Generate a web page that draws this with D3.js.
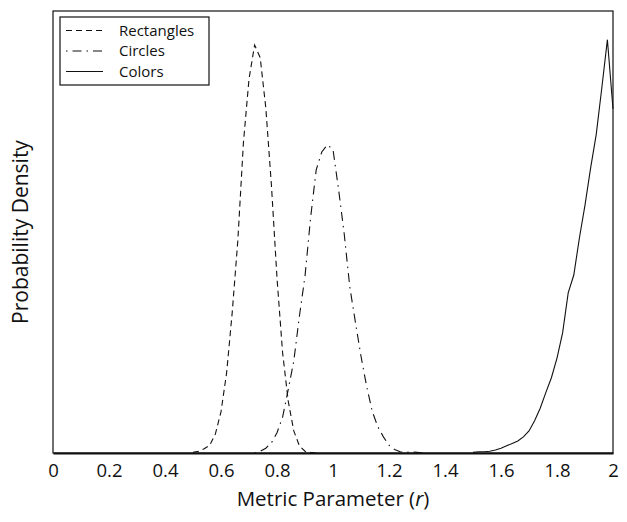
<!DOCTYPE html>
<html>
<head>
<meta charset="utf-8">
<script src="https://cdn.jsdelivr.net/npm/d3@7"></script>
<style>
  body { margin: 0; background: #fff; }
  text { font-family: "Open Sans", "Noto Sans", sans-serif; fill: #111; }
</style>
</head>
<body>
<script>
// density estimates (x = metric parameter r)
const rectX = [0.50, 0.52, 0.54, 0.56, 0.58, 0.60, 0.62, 0.64, 0.66, 0.68, 0.70, 0.72, 0.74, 0.76, 0.78, 0.80, 0.82, 0.84, 0.86, 0.88, 0.90, 0.92, 0.94];
const rectY = [0.01, 0.03, 0.07, 0.13, 0.32, 0.69, 1.34, 2.35, 3.55, 5.19, 6.26, 6.83, 6.62, 5.78, 4.49, 2.93, 1.68, 0.87, 0.37, 0.12, 0.03, 0.01, 0];

const circX = [0.72, 0.74, 0.76, 0.78, 0.80, 0.82, 0.84, 0.86, 0.88, 0.90, 0.92, 0.94, 0.96, 0.98, 1.00, 1.02, 1.04, 1.06, 1.08, 1.10, 1.12, 1.14, 1.16, 1.18, 1.20, 1.22, 1.24, 1.26, 1.28, 1.30, 1.32];
const circY = [0, 0.03, 0.08, 0.17, 0.34, 0.60, 1.06, 1.54, 2.29, 2.96, 3.94, 4.74, 5.04, 5.16, 5.08, 4.41, 3.67, 2.78, 2.19, 1.62, 1.12, 0.70, 0.44, 0.27, 0.13, 0.06, 0.02, 0.01, 0.02, 0.01, 0];

const colX = [1.50, 1.52, 1.54, 1.56, 1.58, 1.60, 1.62, 1.64, 1.66, 1.68, 1.70, 1.72, 1.74, 1.76, 1.78, 1.80, 1.82, 1.84, 1.86, 1.88, 1.90, 1.92, 1.94, 1.96, 1.98, 2.00];
const colY = [0.01, 0.02, 0.02, 0.03, 0.05, 0.08, 0.12, 0.16, 0.20, 0.27, 0.37, 0.54, 0.75, 1.01, 1.26, 1.59, 2.01, 2.68, 2.98, 3.60, 4.15, 4.77, 5.33, 6.11, 6.92, 5.76];

const xTicks = [0, 0.2, 0.4, 0.6, 0.8, 1, 1.2, 1.4, 1.6, 1.8, 2];

const series = [
  {name: "Rectangles", xs: rectX, ys: rectY, dash: "6,4"},
  {name: "Circles", xs: circX, ys: circY, dash: "1.5,5,9,5"},
  {name: "Colors", xs: colX, ys: colY, dash: null}
];

const W = 627, H = 522;
const margin = {top: 11, right: 14, bottom: 69, left: 53};
const width = W - margin.left - margin.right;
const height = H - margin.top - margin.bottom;

const svg = d3.select("body").append("svg")
  .attr("width", W)
  .attr("height", H);

const g = svg.append("g")
  .attr("transform", "translate(" + margin.left + "," + margin.top + ")");

const x = d3.scaleLinear().domain([0, 2]).range([0, width]);
const y = d3.scaleLinear().domain([0, 7.4]).range([height, 0]);

// frame
g.append("rect")
  .attr("width", width)
  .attr("height", height)
  .attr("fill", "none")
  .attr("stroke", "#111")
  .attr("stroke-width", 1.2);

const line = d3.line()
  .x(d => x(d[0]))
  .y(d => y(d[1]));

series.forEach(s => {
  g.append("path")
    .datum(s.xs.map((v, i) => [v, s.ys[i]]))
    .attr("d", line)
    .attr("fill", "none")
    .attr("stroke", "#111")
    .attr("stroke-width", 1.1)
    .attr("stroke-dasharray", s.dash);
});

// bottom axis, labels only
const xAxis = d3.axisBottom(x)
  .tickValues(xTicks)
  .tickSize(0)
  .tickSizeOuter(0)
  .tickPadding(11)
  .tickFormat(d => String(d));

const ax = g.append("g")
  .attr("transform", "translate(0," + height + ")")
  .attr("font-size", 18.5)
  .attr("font-family", "'Open Sans', 'Noto Sans', sans-serif")
  .call(xAxis);
ax.select(".domain").attr("stroke", "#111").attr("stroke-width", 2.2);
ax.selectAll(".tick line").remove();
ax.selectAll("text")
  .style("font-size", "18.5px")
  .attr("fill", "#111");

// axis titles
const xt = svg.append("text")
  .attr("x", margin.left + width / 2)
  .attr("y", 506)
  .attr("text-anchor", "middle")
  .style("font-size", "20.5px");
xt.append("tspan").text("Metric Parameter (");
xt.append("tspan").style("font-style", "italic").text("r");
xt.append("tspan").text(")");

svg.append("text")
  .attr("transform", "translate(28," + (margin.top + height / 2) + ") rotate(-90)")
  .attr("text-anchor", "middle")
  .style("font-size", "21px")
  .text("Probability Density");

// legend
const legend = g.append("g").attr("transform", "translate(7,6)");
legend.append("rect")
  .attr("width", 149)
  .attr("height", 68)
  .attr("fill", "#fff")
  .attr("stroke", "#111")
  .attr("stroke-width", 1.2);

const item = legend.selectAll(".item")
  .data(series)
  .enter().append("g")
  .attr("class", "item")
  .attr("transform", (d, i) => "translate(0," + (13.5 + i * 20.5) + ")");

item.append("line")
  .attr("x1", 6)
  .attr("x2", 43)
  .attr("stroke", "#111")
  .attr("stroke-width", 1.1)
  .attr("stroke-dasharray", d => d.dash);

item.append("text")
  .attr("x", 59)
  .attr("dy", "0.35em")
  .style("font-size", "15px")
  .text(d => d.name);
</script>
</body>
</html>
